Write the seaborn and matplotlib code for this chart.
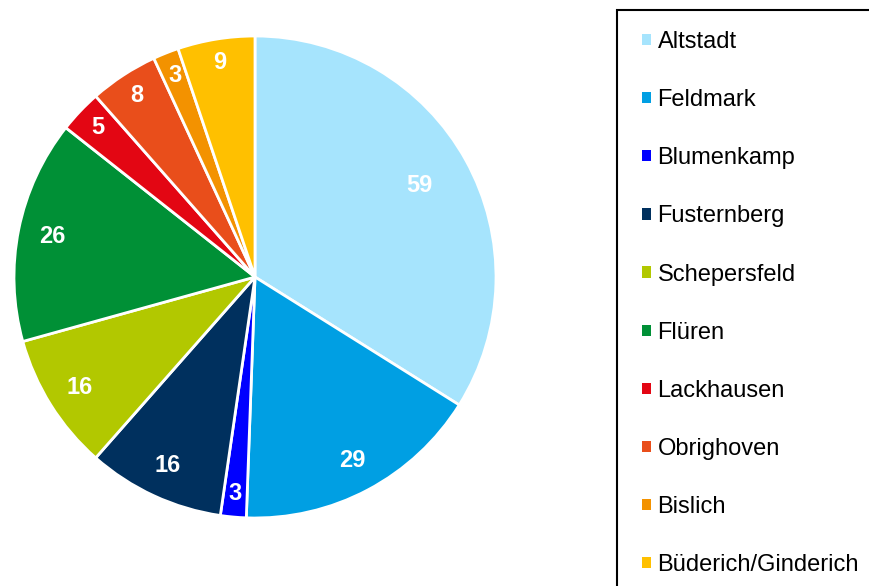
import matplotlib
matplotlib.use("Agg")
import matplotlib.pyplot as plt
import seaborn as sns
import numpy as np
from matplotlib.patches import Rectangle, Patch

categories = ["Altstadt", "Feldmark", "Blumenkamp", "Fusternberg", "Schepersfeld",
              "Flüren", "Lackhausen", "Obrighoven", "Bislich", "Büderich/Ginderich"]
values = [59, 29, 3, 16, 16, 26, 5, 8, 3, 9]
colors = ["#A6E4FD", "#009FE3", "#0000FF", "#00305E", "#B2C800",
          "#009036", "#E30613", "#E94E1B", "#F39200", "#FFC000"]

sns.set_theme(style="white")
plt.rcParams["font.family"] = ["Liberation Sans", "DejaVu Sans"]
plt.rcParams["text.color"] = "black"

W, H = 870, 586
fig = plt.figure(figsize=(W / 100, H / 100), dpi=100)
cx, cy, R = 255, 277, 241
ax = fig.add_axes([(cx - R) / W, (H - cy - R) / H, 2 * R / W, 2 * R / H])
wedges, texts = ax.pie(values, colors=colors, startangle=90, counterclock=False,
                       radius=1, wedgeprops=dict(edgecolor="white", linewidth=2))
for w, v in zip(wedges, values):
    mid = np.deg2rad((w.theta1 + w.theta2) / 2)
    r = 0.78 if v > 40 else (0.9 if v < 10 else 0.86)
    ax.text(r * np.cos(mid), r * np.sin(mid), str(v), ha="center", va="center",
            color="white", fontsize=17, fontweight="bold")
ax.set_xlim(-1, 1)
ax.set_ylim(-1, 1)
ax.axis("off")

handles = [Patch(facecolor=c, edgecolor="none") for c in colors]
fig.legend(handles, categories, loc="upper left", bbox_to_anchor=(642 / W, 1 - 31 / H),
           frameon=False, fontsize=17, handlelength=0.36, handleheight=0.36,
           handletextpad=0.3, labelspacing=1.53, borderaxespad=0, borderpad=0,
           labelcolor="black")
fig.patches.append(Rectangle((617 / W, -0.1), 300 / W, 1.1 - 10 / H,
                             transform=fig.transFigure, fill=False,
                             edgecolor="black", linewidth=1.5))
fig.savefig("out.png", dpi=100)
